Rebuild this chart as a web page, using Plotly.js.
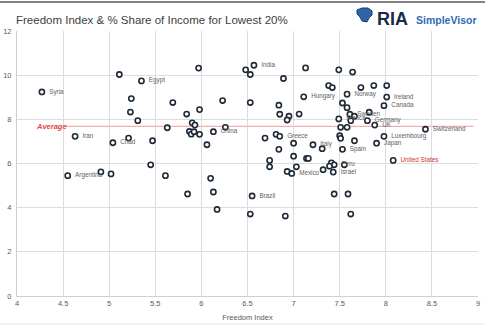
<!DOCTYPE html>
<html>
<head>
<meta charset="utf-8">
<script src="https://cdn.plot.ly/plotly-3.0.1.min.js"></script>
<style>html,body{margin:0;padding:0;background:#fff;}#chart{width:485px;height:333px;}</style>
</head>
<body>
<div id="chart"></div>
<script>
// Freedom Index (x) and % share of income for lowest 20% (y)
const freedomIndex = [
  4.27, 5.11, 5.35, 5.24, 5.23, 5.31, 4.63, 5.21, 5.04, 5.47,
  5.45, 4.55, 4.91, 5.02, 5.69, 5.84, 5.97, 5.98, 5.63, 5.90,
  5.93, 5.87, 5.89, 5.92, 5.98, 6.13, 6.26, 6.06, 5.61, 6.10,
  5.85, 6.13, 6.55, 6.17, 6.53, 6.91, 6.23, 6.48, 6.53, 6.57,
  6.53, 6.89, 7.13, 7.11, 6.84, 6.85, 6.95, 6.93, 7.06, 6.69,
  6.81, 6.85, 7.00, 7.21, 6.84, 7.00, 7.14, 7.16, 6.74, 6.74,
  7.03, 6.93, 6.98, 7.49, 7.64, 7.38, 7.42, 7.73, 7.87, 8.01,
  7.58, 8.01, 7.53, 7.58, 7.98, 7.61, 7.66, 7.82, 7.49, 7.80,
  7.88, 7.62, 7.51, 7.58, 8.43, 7.98, 7.50, 7.51, 7.66, 7.90,
  7.31, 7.53, 8.08, 7.32, 7.41, 7.44, 7.39, 7.55, 7.43, 7.44,
  7.59, 7.62
];
const incomeShare = [
  9.24, 10.03, 9.74, 8.94, 8.33, 7.94, 7.23, 7.15, 6.94, 7.03,
  5.94, 5.45, 5.62, 5.53, 8.76, 8.24, 10.32, 8.44, 7.62, 7.84,
  7.74, 7.45, 7.33, 7.44, 7.32, 7.44, 7.64, 6.85, 5.45, 5.33,
  4.62, 4.71, 4.53, 3.92, 3.71, 3.62, 8.85, 10.24, 10.03, 10.45,
  8.76, 9.85, 10.33, 9.02, 8.64, 8.23, 8.14, 7.97, 8.24, 7.15,
  7.32, 7.23, 6.92, 6.85, 6.64, 6.33, 6.23, 6.23, 6.14, 5.85,
  5.85, 5.64, 5.55, 10.24, 10.14, 9.53, 9.44, 9.44, 9.53, 9.53,
  9.14, 9.01, 8.74, 8.53, 8.62, 8.23, 8.14, 8.32, 8.02, 7.94,
  7.74, 7.94, 7.64, 7.64, 7.55, 7.23, 7.26, 7.14, 7.03, 6.92,
  6.67, 6.64, 6.14, 5.72, 6.03, 5.94, 5.88, 5.94, 5.61, 4.62,
  4.62, 3.71
];
const countryLabels = [
  "Syria", "", "Egypt", "", "", "", "Iran", "", "Chad", "",
  "", "Argentina", "", "", "", "", "", "", "", "",
  "", "", "", "", "", "China", "", "", "", "",
  "", "", "Brazil", "", "", "", "", "", "", "India",
  "", "", "", "Hungary", "", "", "", "", "", "",
  "", "Greece", "", "Italy", "", "", "", "", "", "",
  "", "", "Mexico", "", "", "", "", "", "", "",
  "Norway", "Ireland", "", "", "Canada", "Sweden", "", "", "France", "Germany",
  "UK", "", "", "", "Switzerland", "Luxembourg", "", "", "", "Japan",
  "", "Spain", "United States", "", "", "Peru", "", "", "Israel", "",
  "", ""
];
const highlightCountry = "United States";
const averageValue = 7.68;
const averageRange = [4.5, 8.95];
const xTicks = [4, 4.5, 5, 5.5, 6, 6.5, 7, 7.5, 8, 8.5, 9];
const yTicks = [0, 2, 4, 6, 8, 10, 12];

// layout helpers (pixel -> paper) for decorations only
const L = 17, R = 478, T = 31, B = 296;
const px = p => (p - L) / (R - L);
const py = p => (B - p) / (B - T);

const labelColors = countryLabels.map(c => c === highlightCountry ? '#d0312d' : '#606060');
const labelText = countryLabels.map(c => c ? '\u2002' + c : '');

const trace = {
  type: 'scatter',
  mode: 'markers+text',
  x: freedomIndex,
  y: incomeShare,
  text: labelText,
  textposition: 'middle right',
  textfont: {family: 'Liberation Sans, Arial, sans-serif', size: 6.3, color: labelColors},
  marker: {symbol: 'circle', size: 5.2, color: '#ffffff', line: {color: '#1e2a38', width: 1.6}},
  hoverinfo: 'x+y+text',
  cliponaxis: false,
  showlegend: false
};

const iconPts = [[357,10],[362,8],[368,8],[372,11],[372,15],[369,18],[367,22],[362,21],[360,17],[357,14]];
const iconPath = 'M ' + iconPts.map(p => px(p[0]).toFixed(4) + ' ' + py(p[1]).toFixed(4)).join(' L ') + ' Z';

const layout = {
  width: 485, height: 333,
  margin: {l: L, r: 485 - R, t: T, b: 333 - B, pad: 0},
  paper_bgcolor: '#ffffff', plot_bgcolor: '#ffffff',
  font: {family: 'Liberation Sans, Arial, sans-serif', color: '#595959'},
  xaxis: {
    range: [4, 9], tickvals: xTicks, ticktext: xTicks.map(String),
    showgrid: true, gridcolor: '#dcdcdc', gridwidth: 1,
    zeroline: false, showline: true, linecolor: '#d0d0d0', linewidth: 1,
    ticks: '', tickfont: {size: 7.5, color: '#595959'},
    title: {text: 'Freedom Index', font: {size: 7.5, color: '#595959'}, standoff: 7},
    automargin: false, fixedrange: true
  },
  yaxis: {
    range: [0, 12], tickvals: yTicks, ticktext: yTicks.map(String),
    showgrid: true, gridcolor: '#dcdcdc', gridwidth: 1,
    zeroline: false, showline: true, linecolor: '#d0d0d0', linewidth: 1,
    ticks: '', tickfont: {size: 7.5, color: '#595959'}, ticklabelstandoff: 3,
    automargin: false, fixedrange: true
  },
  shapes: [
    {type: 'line', xref: 'x', yref: 'y', x0: averageRange[0], x1: averageRange[1], y0: averageValue, y1: averageValue,
     line: {color: '#eeb0b0', width: 1.2}, layer: 'below'},
    {type: 'line', xref: 'paper', yref: 'paper', x0: px(0), x1: px(485), y0: py(2), y1: py(2),
     line: {color: '#5a5a5a', width: 1.5}},
    {type: 'line', xref: 'paper', yref: 'paper', x0: px(0), x1: px(485), y0: py(324), y1: py(324),
     line: {color: '#e6e6e6', width: 1}},
    {type: 'path', xref: 'paper', yref: 'paper', path: iconPath,
     fillcolor: '#2f64a8', line: {color: '#1d3f73', width: 1}}
  ],
  annotations: [
    {text: 'Freedom Index &amp; % Share of Income for Lowest 20%', xref: 'paper', yref: 'paper',
     x: px(14), y: py(20), xanchor: 'left', yanchor: 'middle', showarrow: false,
     font: {family: 'Liberation Sans, Arial, sans-serif', size: 11.5, color: '#404040'}},
    {text: '<b>RIA</b>', xref: 'paper', yref: 'paper', x: px(375), y: py(19), xanchor: 'left', yanchor: 'middle',
     showarrow: false, font: {family: 'Liberation Sans, Arial, sans-serif', size: 18, color: '#1b2a48'}},
    {text: '<b>SimpleVisor</b>', xref: 'paper', yref: 'paper', x: px(414), y: py(20), xanchor: 'left', yanchor: 'middle',
     showarrow: false, font: {family: 'Liberation Sans, Arial, sans-serif', size: 10.5, color: '#2e6db4'}},
    {text: '<b><i>Average</i></b>', xref: 'paper', yref: 'y', x: px(34), y: averageValue, xanchor: 'left', yanchor: 'middle',
     showarrow: false, font: {family: 'Liberation Sans, Arial, sans-serif', size: 7.5, color: '#e04848'}}
  ]
};

Plotly.newPlot('chart', [trace], layout, {staticPlot: true, displayModeBar: false});
</script>
</body>
</html>
